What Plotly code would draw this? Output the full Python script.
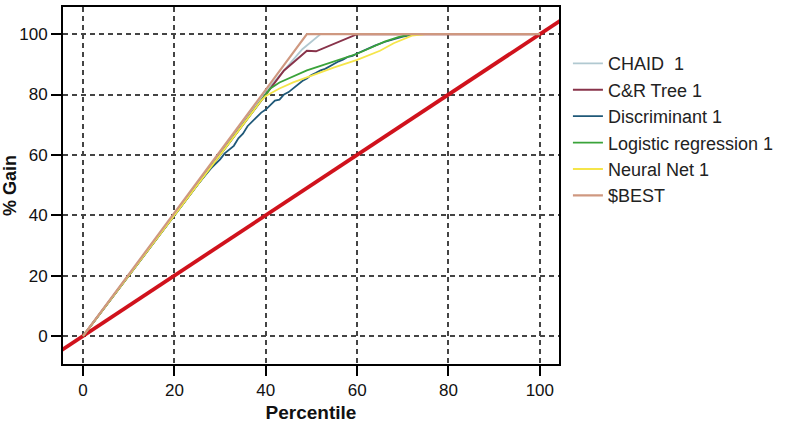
import plotly.graph_objects as go

# ---- data ----
baseline_x = [-5, 105]
baseline_y = [-5, 105]

best_x = [0, 49, 100]
best_y = [0, 100, 100]

chaid_x = [0, 40, 44, 48, 52, 100]
chaid_y = [0, 81, 88, 95, 100, 100]

cr_x = [0, 40, 44, 49, 51, 60, 100]
cr_y = [0, 80, 88, 94.5, 94.3, 100, 100]

disc_x = [0, 25, 28, 30, 31, 33, 34, 35, 36, 37, 38, 39, 40, 41, 42, 43, 44, 45, 46, 47, 48,
          49, 50, 51, 52, 53, 54, 55, 56, 57, 58, 59, 60, 62, 64, 66, 68, 70, 73, 100]
disc_y = [0, 50, 55.5, 58.5, 60.5, 63, 65.5, 67, 69.5, 71, 72.5, 74, 75, 76.5, 78, 78.3, 80, 80.8, 82,
          83.5, 84.5, 85.3, 86.5, 87.2, 88, 88.5, 89.5, 90.2, 91, 91.6, 92.5, 92.8, 93.6, 95, 96.3, 97.4,
          98.4, 99.2, 100, 100]

log_x = [0, 39, 40, 41, 43, 46, 49, 52, 55, 58, 60, 63, 66, 69, 72, 100]
log_y = [0, 78, 80, 82, 84, 86, 88, 89.5, 91, 92.5, 93.5, 95.5, 97.5, 99, 100, 100]

nn_x = [0, 39, 40, 43, 46, 50, 55, 60, 65, 68, 72, 75, 100]
nn_y = [0, 78, 79.5, 82, 84, 86.3, 89, 91.5, 94.5, 97, 99.5, 100, 100]

x_ticks = [0, 20, 40, 60, 80, 100]
y_ticks = [0, 20, 40, 60, 80, 100]

FONT = "Liberation Sans, Arial, sans-serif"

fig = go.Figure()

fig.add_trace(go.Scatter(x=baseline_x, y=baseline_y, mode="lines",
                         line=dict(color="#d0121c", width=3.8), showlegend=False,
                         hoverinfo="skip"))

series = [
    ("CHAID  1", chaid_x, chaid_y, "#a9c3cc", 1.8, 0.9),
    ("C&R Tree 1", cr_x, cr_y, "#88334a", 2.0, 1.0),
    ("Discriminant 1", disc_x, disc_y, "#1f5878", 1.8, 1.0),
    ("Logistic regression 1", log_x, log_y, "#3aa33a", 1.8, 1.0),
    ("Neural Net 1", nn_x, nn_y, "#f5e54a", 1.8, 1.0),
    ("$BEST", best_x, best_y, "#cf9880", 2.2, 1.0),
]
for i, (name, xs, ys, col, w, op) in enumerate(series):
    fig.add_trace(go.Scatter(x=xs, y=ys, mode="lines", name=name,
                             line=dict(color=col, width=w), opacity=op,
                             legendrank=i + 1))

axis_common = dict(
    showline=True, linecolor="black", linewidth=2, mirror=True,
    ticks="outside", ticklen=10, tickwidth=2, tickcolor="black",
    showgrid=True, gridcolor="#444444", gridwidth=1.8, griddash="5px,4px",
    zeroline=False, automargin=False,
    tickfont=dict(family=FONT, size=17, color="#111"),
)

fig.update_xaxes(range=[-4.4, 104.2], tickvals=x_ticks,
                 title=dict(text="<b>Percentile</b>", font=dict(family=FONT, size=19, color="#111"),
                            standoff=6),
                 **axis_common)
fig.update_yaxes(range=[-9.3, 109], tickvals=y_ticks,
                 title=dict(text="<b>% Gain</b>", font=dict(family=FONT, size=18, color="#111"),
                            standoff=4),
                 **axis_common)

fig.update_layout(
    width=797, height=426,
    margin=dict(l=63, r=238, t=7, b=62),
    plot_bgcolor="white", paper_bgcolor="white",
    font=dict(family=FONT),
    legend=dict(x=1.018, xanchor="left", y=0.893, yanchor="top",
                font=dict(family=FONT, size=18, color="#222"),
                bgcolor="rgba(0,0,0,0)", tracegroupgap=0),
)

fig.write_html("out.html")
